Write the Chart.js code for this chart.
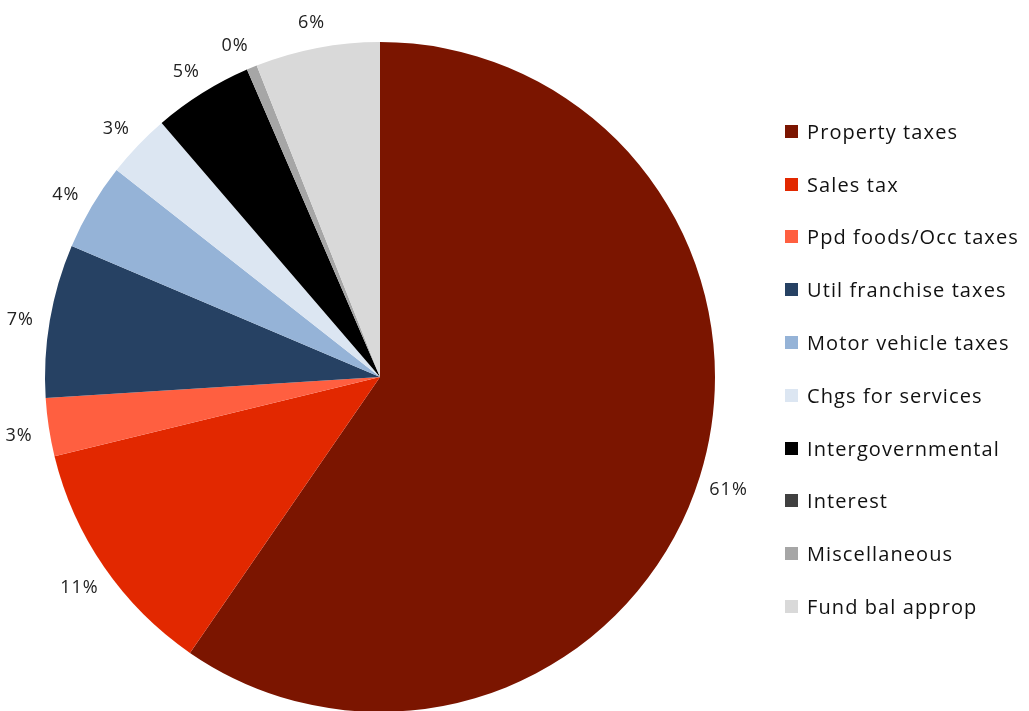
<!DOCTYPE html>
<html>
<head>
<meta charset="utf-8">
<title>Revenue sources</title>
<script src="https://cdn.jsdelivr.net/npm/chart.js@4/dist/chart.umd.min.js"></script>
<style>
  html, body { margin: 0; padding: 0; background: #ffffff; overflow: hidden; }
  #wrap { position: relative; width: 1029px; height: 712px; }
  #pie { position: absolute; left: 0; top: 0; }
  #legend { position: absolute; left: 785px; top: 105px; margin: 0; padding: 0; list-style: none;
    font-family: 'Open Sans', sans-serif; font-size: 20px; letter-spacing: 1.1px; color: #111; }
  #legend li { height: 52.8px; display: flex; align-items: center; white-space: nowrap; }
  #legend .box { width: 13px; height: 13px; margin-right: 9px; flex: none; }
</style>
</head>
<body>
<div id="wrap">
  <canvas id="pie" width="1029" height="712"></canvas>
  <ul id="legend"></ul>
</div>
<script>
const categories = [
  'Property taxes', 'Sales tax', 'Ppd foods/Occ taxes', 'Util franchise taxes',
  'Motor vehicle taxes', 'Chgs for services', 'Intergovernmental', 'Interest',
  'Miscellaneous', 'Fund bal approp'
];
const shares = [59.6, 11.6, 2.8, 7.4, 4.2, 3.1, 4.8, 0, 0.5, 6.0];
const shareLabels = ['61%', '11%', '3%', '7%', '4%', '3%', '5%', '0%', '', '6%'];
const colors = [
  '#7b1500', '#e22800', '#ff5f40', '#264163', '#95b3d7',
  '#dce6f2', '#000000', '#404040', '#a6a6a6', '#d9d9d9'
];

// outside-end percentage labels, placed along each slice's middle angle
const outsideLabels = {
  id: 'outsideLabels',
  afterDatasetsDraw(chart) {
    const ctx = chart.ctx;
    const meta = chart.getDatasetMeta(0);
    ctx.save();
    ctx.font = "18px 'Open Sans', sans-serif";
    ctx.letterSpacing = '1px';
    ctx.fillStyle = '#222';
    ctx.textAlign = 'center';
    ctx.textBaseline = 'middle';
    meta.data.forEach((arc, i) => {
      const text = shareLabels[i];
      if (!text) return;
      const p = arc.getProps(['x', 'y', 'startAngle', 'endAngle', 'outerRadius'], true);
      const mid = (p.startAngle + p.endAngle) / 2;
      const r = p.outerRadius + 30;
      ctx.fillText(text, p.x + Math.cos(mid) * r, p.y + Math.sin(mid) * r + 4);
    });
    ctx.restore();
  }
};

new Chart(document.getElementById('pie').getContext('2d'), {
  type: 'pie',
  data: {
    labels: categories,
    datasets: [
      {
        data: shares,
        backgroundColor: colors,
        borderWidth: 0
      }
    ]
  },
  options: {
    responsive: false,
    animation: false,
    layout: {
      padding: { left: 45, right: 314, top: 42, bottom: 0 }
    },
    plugins: {
      legend: { display: false },
      tooltip: { enabled: false }
    }
  },
  plugins: [outsideLabels]
});

const legend = document.getElementById('legend');
categories.forEach((name, i) => {
  const li = document.createElement('li');
  const box = document.createElement('span');
  box.className = 'box';
  box.style.background = colors[i];
  li.appendChild(box);
  li.appendChild(document.createTextNode(name));
  legend.appendChild(li);
});
</script>
</body>
</html>
